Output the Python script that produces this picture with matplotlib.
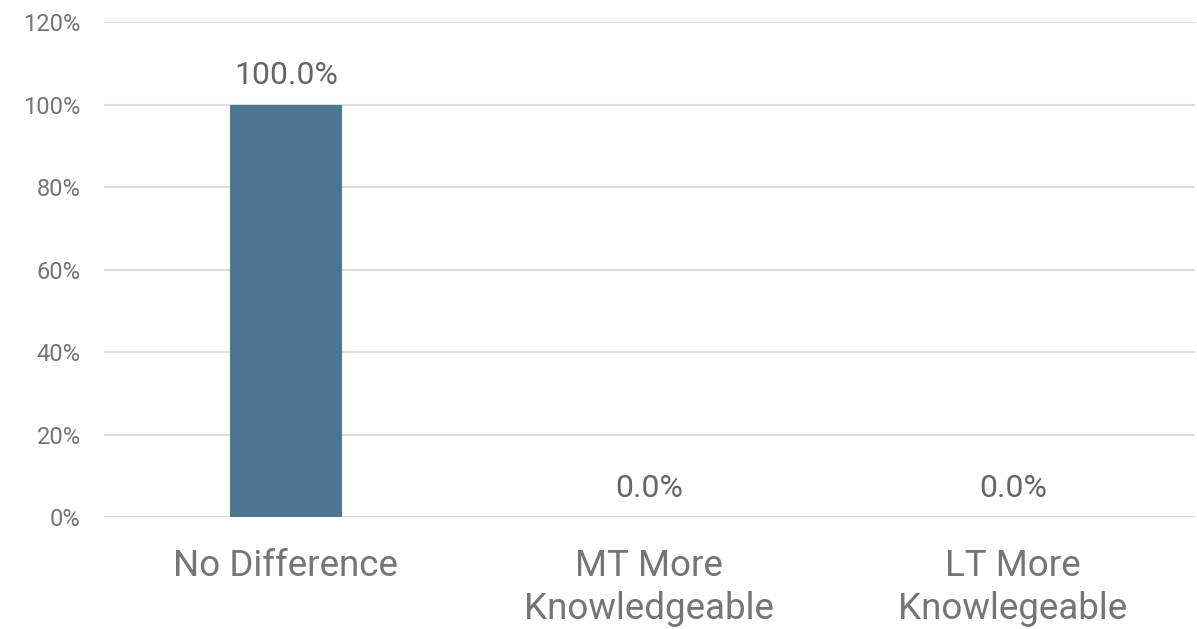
import numpy as np
import matplotlib.pyplot as plt

plt.rcParams['font.family'] = ['Roboto', 'DejaVu Sans']

categories = ['No Difference', 'MT More\nKnowledgeable', 'LT More\nKnowlegeable']
values = [100.0, 0.0, 0.0]
yticks = [0, 20, 40, 60, 80, 100, 120]

fig = plt.figure(figsize=(11.97, 6.29), dpi=100)
ax = fig.add_axes([0.087, 0.178, 0.911, 0.787])

x = np.arange(len(categories))
ax.bar(x, values, width=0.31, color='#4b7890', zorder=3)
for xi, v in zip(x, values):
    ax.text(xi, v + 3.5, f'{v:.1f}%', ha='center', va='bottom', fontsize=23, color='#666666')

ax.set_xlim(-0.5, 2.5)
ax.set_ylim(0, 120)
ax.set_yticks(yticks)
ax.set_yticklabels([f'{t}%' for t in yticks], fontsize=17, color='#757575')
ax.set_xticks(x)
ax.set_xticklabels(categories, fontsize=26.5, color='#757575', linespacing=1.28)
ax.tick_params(axis='both', length=0)
ax.tick_params(axis='x', pad=22)
ax.tick_params(axis='y', pad=17)
ax.grid(axis='y', color='#dddddd', lw=1.5, zorder=0)
for s in ax.spines.values():
    s.set_visible(False)

fig.savefig('out.png', dpi=100)
